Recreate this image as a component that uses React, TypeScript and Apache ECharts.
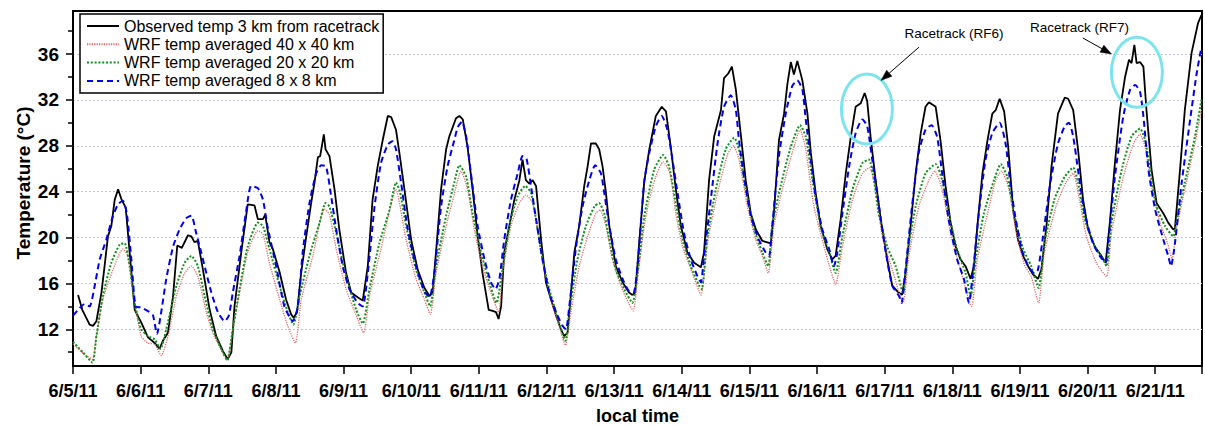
import React, { useEffect, useRef } from 'react';
import * as echarts from 'echarts';

// x values are hours after 6/5/11 00:00 local time, y values are °C
const dateLabels = ['6/5/11','6/6/11','6/7/11','6/8/11','6/9/11','6/10/11','6/11/11','6/12/11','6/13/11','6/14/11','6/15/11','6/16/11','6/17/11','6/18/11','6/19/11','6/20/11','6/21/11'];
const seriesNames = ['Observed temp 3 km from racetrack','WRF temp averaged 40 x 40 km','WRF temp averaged 20 x 20 km','WRF temp averaged 8 x 8 km'];
const yMajorTicks = [12,16,20,24,28,32,36];
const yMinorTicks = [10,14,18,22,26,30,34,38];

const observed = [
[1.8,15.0],[3.3,13.7],[5.9,12.4],[7.1,12.3],[8.3,12.7],[10.1,15.2],[11.2,17.5],[12.4,20.1],[13.6,21.0],[14.8,23.3],[16.0,24.2],[17.1,23.4],[18.7,22.6],[20.1,18.7],[21.9,13.7],[24.2,12.6],[26.6,11.3],[29.0,10.8],[30.7,10.3],[31.9,11.0],[33.7,11.7],[35.5,14.9],[37.0,19.3],[38.6,19.1],[40.8,20.2],[42.0,20.1],[43.1,19.6],[44.3,19.7],[46.1,17.2],[48.5,13.7],[50.8,11.4],[53.2,10.1],[54.9,9.4],[56.2,10.0],[57.3,14.0],[59.7,18.7],[62.0,22.9],[64.4,22.8],[65.6,21.6],[67.4,21.6],[68.2,22.0],[69.7,19.6],[70.9,19.0],[72.1,18.0],[73.3,17.0],[75.6,14.6],[77.4,13.3],[78.3,13.0],[79.5,13.5],[81.0,17.0],[82.7,20.0],[84.5,23.0],[85.7,24.8],[86.9,27.0],[87.7,27.1],[89.0,29.0],[89.6,27.7],[91.0,27.1],[92.8,24.2],[94.5,20.7],[96.9,16.9],[98.7,15.2],[101.0,14.8],[102.8,14.5],[104.6,17.5],[106.3,23.3],[108.1,26.2],[109.9,28.5],[111.7,30.6],[112.9,30.5],[114.6,29.4],[115.8,27.4],[117.6,24.2],[120.0,19.8],[122.3,17.2],[124.7,15.6],[126.5,14.9],[127.6,15.2],[128.8,18.7],[130.6,24.2],[132.4,27.7],[133.5,28.8],[135.9,30.4],[137.1,30.6],[138.3,30.3],[140.0,27.9],[141.8,24.2],[143.6,20.1],[145.3,16.9],[147.5,13.7],[148.9,13.6],[150.1,13.5],[151.0,12.9],[151.9,14.0],[153.0,18.7],[154.8,21.0],[156.6,23.3],[158.4,25.0],[159.5,26.8],[160.7,25.0],[161.9,24.7],[163.1,25.0],[164.3,24.5],[166.1,19.8],[167.8,16.1],[169.6,14.6],[171.4,13.2],[173.1,12.0],[174.3,11.4],[175.5,11.7],[176.7,15.2],[177.9,18.7],[179.6,21.0],[181.4,24.5],[182.6,26.2],[183.8,28.2],[185.5,28.2],[186.7,27.7],[187.9,26.2],[189.1,23.9],[190.3,21.0],[192.6,17.5],[195.0,16.1],[197.3,15.2],[198.5,15.0],[199.5,15.2],[200.9,19.5],[202.7,24.9],[204.5,27.7],[206.8,30.6],[208.9,31.4],[210.4,31.0],[212.1,27.9],[213.9,24.2],[215.7,21.0],[218.0,18.7],[220.4,17.8],[222.8,17.4],[223.9,18.7],[225.7,25.0],[227.5,28.8],[229.9,31.1],[231.0,33.9],[232.5,34.3],[233.8,34.9],[235.2,32.9],[236.9,29.1],[238.7,25.0],[240.5,22.1],[242.3,20.7],[244.6,19.7],[247.6,19.5],[248.7,22.1],[250.5,28.5],[252.3,30.8],[253.5,33.4],[254.7,35.3],[255.8,34.2],[257.0,35.4],[258.8,33.7],[260.6,30.8],[261.8,27.4],[263.5,23.9],[265.3,21.0],[267.6,19.0],[269.4,18.1],[270.6,18.4],[272.4,21.6],[274.2,25.6],[276.0,28.8],[277.7,31.4],[279.5,31.7],[280.9,32.6],[281.8,31.9],[283.0,28.8],[284.8,25.0],[286.6,21.6],[288.9,18.1],[290.7,15.8],[292.5,15.3],[294.2,15.0],[295.4,16.9],[297.2,21.0],[299.0,25.6],[300.8,29.1],[302.5,31.4],[303.7,31.8],[304.9,31.6],[306.1,31.4],[307.8,28.5],[309.6,24.5],[311.4,21.3],[313.2,19.2],[314.9,18.1],[316.7,17.5],[318.5,16.4],[319.7,17.5],[320.9,21.0],[322.7,25.6],[324.5,28.5],[326.2,30.8],[327.4,31.1],[328.8,32.1],[330.4,31.0],[331.8,28.0],[333.6,22.4],[335.3,19.8],[337.1,18.4],[338.9,17.5],[340.6,16.8],[342.4,16.4],[343.6,17.2],[345.4,21.0],[347.2,26.2],[349.5,30.8],[351.9,32.2],[353.1,32.1],[354.9,31.1],[356.6,27.7],[358.4,23.3],[360.2,20.7],[362.6,19.2],[364.9,18.4],[366.4,17.8],[367.9,21.3],[369.7,26.5],[371.5,31.1],[373.3,34.0],[374.7,35.5],[375.6,35.2],[376.6,36.8],[377.4,35.2],[378.6,35.3],[379.8,34.9],[380.9,31.1],[382.7,25.9],[384.5,23.0],[386.9,22.1],[388.6,21.3],[390.4,20.7],[391.0,20.8],[392.8,25.9],[394.5,31.1],[396.9,36.1],[399.2,38.7],[400.4,39.4]
];

const wrf40 = [
[0.0,10.7],[4.1,9.8],[6.9,9.4],[8.3,11.4],[10.6,14.6],[14.2,17.2],[17.7,19.0],[19.5,18.4],[21.9,14.3],[24.2,11.4],[26.6,10.8],[29.0,10.7],[31.3,9.7],[33.7,11.4],[36.7,14.9],[39.6,16.9],[42.0,17.5],[44.3,16.6],[47.3,13.5],[49.6,11.7],[52.6,10.2],[54.7,9.3],[56.7,12.0],[59.1,15.2],[62.0,18.7],[65.6,20.6],[67.4,20.3],[69.7,17.8],[73.3,14.6],[76.2,12.3],[78.9,10.8],[81.0,14.6],[85.1,18.4],[89.2,22.5],[91.0,22.0],[93.4,19.0],[96.9,15.5],[100.5,13.2],[103.1,11.7],[105.2,14.9],[109.3,19.0],[112.0,22.0],[114.5,24.2],[118.2,19.8],[121.7,16.4],[124.7,14.6],[126.8,13.3],[128.8,16.9],[132.4,21.0],[135.0,23.5],[137.7,25.8],[140.0,24.2],[142.4,20.7],[145.3,17.5],[148.3,15.2],[151.0,13.5],[152.4,16.9],[155.4,21.0],[158.4,23.0],[160.7,23.7],[163.1,23.0],[164.8,20.7],[167.2,17.2],[169.6,14.6],[172.5,12.3],[174.7,10.6],[176.7,13.5],[179.6,17.5],[182.6,20.1],[185.5,22.1],[187.0,22.4],[189.1,21.0],[191.4,18.1],[194.4,15.8],[197.1,14.3],[198.8,13.6],[200.3,16.4],[202.7,21.0],[204.5,23.3],[206.8,25.3],[209.4,26.6],[211.8,25.6],[213.9,22.1],[216.3,19.2],[219.8,16.9],[222.8,15.0],[225.1,19.5],[228.7,23.9],[232.2,27.2],[234.3,28.0],[236.3,26.8],[239.3,22.7],[242.3,19.8],[244.6,18.4],[246.7,16.9],[248.7,21.0],[251.7,24.2],[255.2,27.4],[258.0,29.4],[260.0,27.7],[262.9,22.7],[266.5,19.2],[269.0,17.0],[270.6,15.9],[273.0,19.2],[276.6,23.3],[280.1,25.6],[282.6,26.1],[284.8,24.2],[287.2,20.1],[290.7,17.2],[294.5,14.3],[296.6,18.4],[300.1,22.7],[303.7,25.0],[305.8,25.8],[308.4,24.2],[311.4,20.4],[314.9,17.2],[318.8,14.0],[320.9,18.1],[324.5,22.1],[327.4,25.0],[329.5,25.8],[332.1,24.2],[334.5,20.7],[337.6,17.6],[340.0,16.6],[342.6,14.3],[344.7,18.7],[348.8,22.7],[352.3,24.8],[354.9,25.6],[356.9,23.6],[359.6,20.1],[363.1,17.8],[366.7,16.6],[368.5,20.4],[372.7,25.3],[376.3,28.2],[378.6,29.0],[380.6,27.7],[382.7,24.5],[385.7,21.3],[388.4,19.5],[390.0,18.1],[391.5,20.7],[394.5,24.2],[398.1,28.2],[400.4,31.1]
];

const wrf20 = [
[0.0,10.9],[3.5,10.0],[6.9,9.1],[8.3,11.4],[10.6,14.9],[13.6,17.8],[16.6,19.4],[18.3,19.5],[20.1,17.5],[21.9,14.3],[24.2,12.0],[26.6,11.4],[29.0,11.1],[31.0,10.3],[33.1,12.0],[36.7,15.8],[39.6,17.8],[42.0,18.4],[44.3,17.5],[46.7,14.9],[49.6,12.0],[52.6,10.3],[54.7,9.3],[56.7,12.0],[59.1,15.5],[62.0,19.2],[65.6,21.3],[67.4,21.0],[69.7,19.0],[73.3,15.8],[76.2,13.5],[78.2,12.4],[80.4,14.9],[83.9,18.4],[87.5,21.3],[89.6,23.0],[91.0,22.7],[93.4,20.4],[96.9,16.6],[100.5,13.7],[102.8,12.5],[105.2,15.5],[108.7,19.5],[112.3,22.4],[114.6,24.8],[116.0,24.0],[118.2,21.0],[121.7,17.2],[124.7,15.2],[126.7,14.0],[128.8,17.5],[132.4,21.9],[135.3,24.8],[137.1,26.3],[139.5,25.3],[141.8,22.1],[144.8,18.7],[147.7,16.1],[150.3,14.3],[151.9,16.4],[154.8,21.0],[157.8,23.6],[160.5,24.5],[162.5,23.9],[164.3,21.6],[166.6,18.1],[169.0,15.5],[171.4,13.5],[174.7,11.0],[176.1,13.5],[179.0,18.1],[182.0,21.0],[185.0,22.7],[186.7,23.0],[188.5,22.1],[190.3,19.8],[192.6,17.2],[195.6,15.5],[198.5,14.3],[200.3,16.9],[202.7,21.8],[206.2,25.9],[209.4,27.2],[211.5,26.2],[213.9,23.0],[216.3,19.8],[219.2,17.5],[222.2,15.8],[223.1,15.5],[225.1,20.1],[228.1,24.2],[231.6,27.7],[234.6,28.7],[236.3,27.7],[238.7,24.2],[241.7,20.7],[244.6,18.7],[246.7,17.5],[248.1,21.0],[251.1,24.5],[254.7,27.9],[258.0,29.8],[260.0,28.8],[262.4,25.0],[265.3,21.0],[268.3,18.7],[270.6,16.9],[273.0,20.1],[276.6,24.2],[280.1,26.5],[282.4,26.8],[284.2,25.0],[286.0,21.9],[288.9,19.2],[291.9,17.5],[294.5,15.2],[296.0,18.4],[299.0,22.7],[302.5,25.6],[306.1,26.4],[308.4,25.0],[310.7,22.1],[313.7,19.0],[316.7,16.9],[318.5,14.9],[320.3,18.1],[323.2,22.1],[326.8,25.0],[329.2,26.4],[331.5,25.3],[333.9,22.1],[337.0,19.1],[340.0,17.5],[342.6,15.6],[344.7,19.5],[348.2,23.3],[351.9,25.3],[354.9,26.1],[356.6,24.8],[359.0,21.6],[362.6,19.2],[365.5,18.1],[366.7,17.5],[368.5,21.3],[372.1,25.9],[375.6,28.8],[378.6,29.5],[380.4,28.5],[382.2,25.9],[384.5,22.7],[387.5,21.0],[390.4,20.1],[391.5,21.3],[394.5,24.8],[398.1,28.8],[400.4,32.0]
];

const wrf8 = [
[0.0,13.2],[1.5,13.6],[4.1,14.2],[5.9,14.0],[7.7,15.8],[9.5,18.1],[11.8,19.8],[14.2,21.9],[16.0,22.9],[17.7,23.2],[19.1,22.1],[20.7,18.1],[22.2,14.0],[24.2,13.9],[27.2,13.5],[28.4,13.2],[29.8,11.6],[31.3,13.5],[33.1,16.4],[35.5,19.2],[37.8,20.7],[40.2,21.7],[42.0,21.9],[43.7,20.4],[45.5,18.7],[47.3,16.9],[49.1,15.2],[51.4,13.5],[53.8,12.7],[55.3,13.2],[56.7,15.2],[59.1,18.4],[61.5,22.4],[63.2,24.5],[65.6,24.3],[67.4,23.3],[69.0,21.0],[72.1,17.5],[75.0,14.0],[78.0,12.7],[79.8,14.0],[81.5,18.7],[83.9,23.0],[86.3,25.6],[88.1,26.3],[89.8,26.2],[91.6,23.6],[93.4,20.7],[95.7,17.5],[98.1,15.5],[101.0,14.3],[102.8,14.0],[104.6,16.9],[107.0,22.7],[109.3,26.5],[111.7,28.1],[113.4,28.4],[114.6,27.7],[116.4,24.8],[118.8,20.7],[121.7,17.5],[124.7,15.3],[126.5,14.8],[128.2,16.9],[130.6,22.7],[132.9,26.2],[135.3,28.5],[136.5,29.6],[138.0,30.1],[139.5,28.8],[141.2,25.6],[143.6,21.0],[146.0,18.1],[148.3,16.1],[149.9,15.5],[151.3,16.4],[153.0,19.8],[155.4,23.3],[157.8,25.6],[159.5,27.1],[160.9,26.9],[162.5,24.5],[164.3,21.6],[166.6,18.1],[169.0,15.2],[171.4,13.5],[173.7,12.3],[174.9,12.0],[176.1,14.0],[178.5,19.2],[180.8,22.7],[183.2,25.0],[185.3,26.3],[187.3,25.6],[188.5,23.9],[190.3,21.0],[192.6,18.1],[195.0,16.4],[197.3,15.3],[198.9,15.2],[200.3,17.5],[202.7,24.9],[204.5,27.4],[206.8,29.7],[208.9,30.6],[210.9,29.4],[212.7,26.8],[214.5,23.9],[216.8,20.4],[219.2,18.1],[221.6,16.6],[222.8,16.1],[223.9,18.4],[226.3,23.3],[228.7,28.2],[231.0,31.4],[233.4,32.4],[235.2,31.1],[236.3,28.5],[238.1,25.3],[240.5,21.9],[243.4,19.8],[245.8,18.7],[247.0,18.4],[248.1,21.0],[250.5,27.1],[252.9,30.8],[255.2,33.2],[257.0,33.7],[258.8,32.9],[260.0,30.3],[261.8,26.8],[263.5,23.6],[265.9,20.7],[268.3,19.0],[270.0,17.5],[271.2,18.7],[273.0,22.1],[275.4,26.2],[277.7,29.1],[280.1,30.3],[281.8,29.7],[283.6,26.8],[286.0,22.7],[288.4,18.7],[290.7,15.8],[293.1,14.9],[294.0,14.3],[295.4,17.2],[297.7,22.7],[300.1,27.4],[302.5,29.4],[304.6,29.8],[306.6,28.8],[308.4,25.6],[310.7,21.6],[313.7,18.1],[316.1,16.4],[317.9,14.3],[319.1,16.4],[321.4,22.1],[323.8,26.8],[326.2,29.1],[328.8,30.0],[330.9,28.2],[332.7,24.5],[334.5,21.6],[336.6,19.0],[338.9,17.5],[341.1,16.9],[342.4,17.2],[344.2,20.1],[346.6,24.5],[349.5,28.2],[351.9,29.7],[353.4,30.0],[354.9,28.8],[356.6,25.9],[359.0,22.1],[361.9,19.5],[364.3,18.4],[366.4,17.8],[367.3,19.5],[369.7,25.3],[372.7,30.6],[375.1,32.9],[376.9,33.3],[378.6,32.7],[379.8,30.6],[381.6,25.9],[384.0,22.4],[386.9,19.8],[388.6,18.4],[389.6,17.5],[391.0,19.5],[393.4,24.8],[396.4,30.3],[398.7,34.3],[400.4,36.6]
];

// Annotations in data coordinates [hour, °C]
const annotationLabels = ['Racetrack (RF6)', 'Racetrack (RF7)'];
const annotationTextAt = [[312.6, 37.8], [357.1, 38.35]];
const highlightCenters = [[281.7, 31.2], [377.5, 34.4]];
const arrowFrom = [[300.2, 36.6], [358.3, 37.4]];
const arrowTo = [[286.7, 33.7], [368.5, 36.0]];

const FONT = "'Liberation Sans', Arial, Helvetica, sans-serif";

export default function App() {
  const ref = useRef<HTMLDivElement>(null);
  useEffect(() => {
    document.body.style.margin = '0';
    const chart = echarts.init(ref.current as HTMLDivElement, null, { renderer: 'svg' });
    const option: any = {
      animation: false,
      backgroundColor: '#fff',
      textStyle: { fontFamily: FONT },
      grid: { left: 73, top: 11, right: 1, bottom: 63, show: true, borderColor: '#000', borderWidth: 2, containLabel: false },
      legend: {
        data: seriesNames,
        orient: 'vertical',
        left: 80,
        top: 14,
        padding: [3, 4, 3, 6],
        itemGap: 0.3,
        itemWidth: 32,
        itemHeight: 12,
        icon: 'inherit',
        itemStyle: { opacity: 0 },
        borderColor: '#000',
        borderWidth: 1.5,
        backgroundColor: '#fff',
        selectedMode: false,
        textStyle: { fontSize: 16, color: '#000', fontFamily: FONT, lineHeight: 18 },
      },
      xAxis: {
        type: 'value',
        min: 0,
        max: 400.6,
        interval: 24,
        name: 'local time',
        nameLocation: 'middle',
        nameGap: 41,
        nameTextStyle: { fontSize: 18, fontWeight: 'bold', color: '#000', fontFamily: FONT },
        axisLine: { show: true, lineStyle: { color: '#000', width: 2 } },
        axisTick: { show: true, length: 8, lineStyle: { color: '#000', width: 1.5 } },
        axisLabel: {
          margin: 16,
          fontSize: 18,
          fontWeight: 'bold',
          color: '#000',
          fontFamily: FONT,
          formatter: (v: number) => {
            const i = Math.round(v / 24);
            return Math.abs(v - i * 24) < 0.01 && dateLabels[i] ? dateLabels[i] : '';
          },
        },
        splitLine: { show: false },
      },
      yAxis: [
        {
          type: 'value',
          min: 8.8,
          max: 39.75,
          position: 'left',
          axisLine: { show: true, lineStyle: { color: '#000', width: 2 } },
          axisTick: { show: true, length: 7, customValues: yMajorTicks, lineStyle: { color: '#000', width: 1.5 } },
          axisLabel: { customValues: yMajorTicks, margin: 14, fontSize: 19, fontWeight: 'bold', color: '#000', fontFamily: FONT },
          splitLine: { show: true, lineStyle: { color: '#c3c3de', width: 1, type: [2, 2] } },
        },
        {
          type: 'value',
          min: 8.8,
          max: 39.75,
          position: 'left',
          axisLine: { show: false },
          axisTick: { show: true, length: 5, customValues: yMinorTicks, lineStyle: { color: '#000', width: 1.5 } },
          axisLabel: { show: false, customValues: yMinorTicks },
          splitLine: { show: false },
        },
      ],
      series: [
        {
          name: seriesNames[0], type: 'line', data: observed, symbol: 'none', showSymbol: false, yAxisIndex: 0,
          lineStyle: { color: '#000', width: 1.8, type: 'solid' }, itemStyle: { color: '#000' },
        },
        {
          name: seriesNames[1], type: 'line', data: wrf40, symbol: 'none', showSymbol: false, yAxisIndex: 0, smooth: 0.2,
          lineStyle: { color: '#e06666', width: 1.3, type: [1.2, 1.2] }, itemStyle: { color: '#e06666' },
        },
        {
          name: seriesNames[2], type: 'line', data: wrf20, symbol: 'none', showSymbol: false, yAxisIndex: 0, smooth: 0.2,
          lineStyle: { color: '#12901a', width: 2, type: [2, 1.8] }, itemStyle: { color: '#12901a' },
        },
        {
          name: seriesNames[3], type: 'line', data: wrf8, symbol: 'none', showSymbol: false, yAxisIndex: 0, smooth: 0.2,
          lineStyle: { color: '#0000ee', width: 2, type: [6, 4] }, itemStyle: { color: '#0000ee' },
        },
      ],
    };
    chart.setOption(option);

    const px = (p: number[]) => chart.convertToPixel({ seriesIndex: 0 }, p) as number[];
    const graphics: any[] = [
      {
        type: 'text', x: 23, y: 183, rotation: Math.PI / 2,
        style: { text: 'Temperature (°C)', fontSize: 19, fontWeight: 'bold', fontFamily: FONT, fill: '#000', align: 'center', verticalAlign: 'middle' },
      },
    ];
    highlightCenters.forEach((c) => {
      const p = px(c);
      graphics.push({ type: 'ellipse', shape: { cx: p[0], cy: p[1], rx: 25.5, ry: 35 }, style: { fill: 'none', stroke: '#7ce4ee', lineWidth: 3 }, z: 100 });
    });
    annotationLabels.forEach((t, i) => {
      const p = px(annotationTextAt[i]);
      graphics.push({ type: 'text', x: p[0], y: p[1], style: { text: t, fontSize: 13.5, fontFamily: FONT, fill: '#000', align: 'center', verticalAlign: 'middle' }, z: 100 });
    });
    arrowFrom.forEach((f, i) => {
      const a = px(f);
      const b = px(arrowTo[i]);
      const dx = b[0] - a[0];
      const dy = b[1] - a[1];
      const len = Math.sqrt(dx * dx + dy * dy);
      const ux = dx / len;
      const uy = dy / len;
      const headLen = 11;
      const headHalf = 4;
      const bx = b[0] - ux * headLen;
      const by = b[1] - uy * headLen;
      graphics.push({ type: 'line', shape: { x1: a[0], y1: a[1], x2: bx, y2: by }, style: { stroke: '#000', lineWidth: 1 }, z: 101 });
      graphics.push({
        type: 'polygon',
        shape: { points: [[b[0], b[1]], [bx - uy * headHalf, by + ux * headHalf], [bx + uy * headHalf, by - ux * headHalf]] },
        style: { fill: '#000', stroke: '#000', lineWidth: 0.5 },
        z: 101,
      });
    });
    chart.setOption({ graphic: graphics });

    return () => chart.dispose();
  }, []);
  return <div ref={ref} style={{ width: 1205, height: 430 }} />;
}
